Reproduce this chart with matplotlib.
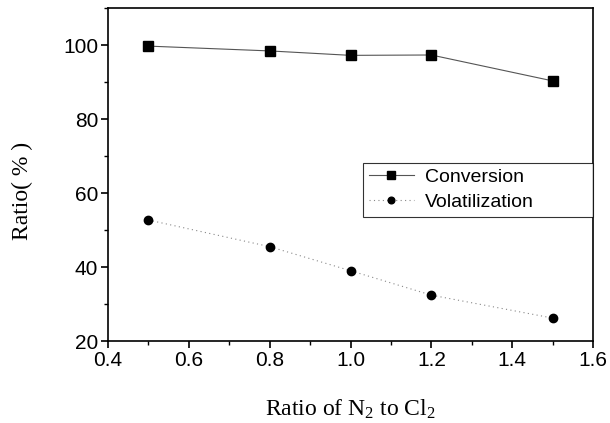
import matplotlib
matplotlib.use("Agg")
import matplotlib as mpl
import matplotlib.pyplot as plt
from matplotlib.ticker import MultipleLocator

mpl.rcParams["mathtext.fontset"] = "custom"
mpl.rcParams["mathtext.rm"] = "Liberation Serif"
mpl.rcParams["mathtext.it"] = "Liberation Serif:italic"

ratio = [0.5, 0.8, 1.0, 1.2, 1.5]
conversion = [99.7, 98.4, 97.2, 97.3, 90.3]
volatilization = [52.7, 45.5, 39.0, 32.4, 26.2]

fig = plt.figure(figsize=(6.10, 4.23), dpi=100)
ax = fig.add_axes([108/610, 1-341/423, (593-108)/610, (341-8)/423])

ax.plot(ratio, conversion, color="#555555", lw=0.8, marker="s", ms=6.5,
        mfc="black", mec="black", label="Conversion")
ax.plot(ratio, volatilization, color="#888888", lw=0.8, ls=(0, (1, 3)),
        marker="o", ms=6, mfc="black", mec="black", label="Volatilization")

ax.set_xlim(0.4, 1.6)
ax.set_ylim(20, 110)
ax.xaxis.set_major_locator(MultipleLocator(0.2))
ax.xaxis.set_minor_locator(MultipleLocator(0.1))
ax.yaxis.set_major_locator(MultipleLocator(20))
ax.yaxis.set_minor_locator(MultipleLocator(10))
ax.tick_params(which="major", direction="out", length=5, width=1.2,
               labelsize=15, top=False, right=False, pad=2)
ax.tick_params(which="minor", direction="out", length=3, width=1.0,
               top=False, right=False)
for lab in ax.get_xticklabels() + ax.get_yticklabels():
    lab.set_family("Liberation Sans")
for s in ax.spines.values():
    s.set_linewidth(1.2)

ax.set_xlabel(r"Ratio of N$_2$ to Cl$_2$", family="Liberation Serif",
              fontsize=17, labelpad=20)
ax.set_ylabel("Ratio( % )", family="Liberation Serif", fontsize=17)
ax.yaxis.set_label_coords(-0.155, 0.45)

leg = ax.legend(loc="upper left", bbox_to_anchor=(0.526, 0.357, 0.474, 0.178),
                mode="expand",
                prop={"family": "Liberation Sans", "size": 14},
                frameon=True, fancybox=False, edgecolor="black",
                borderpad=0.3, handlelength=2.3, handletextpad=0.6,
                labelspacing=0.35, borderaxespad=0, markerscale=0.8)
leg.get_frame().set_linewidth(0.8)

fig.savefig("out.png", dpi=100)
